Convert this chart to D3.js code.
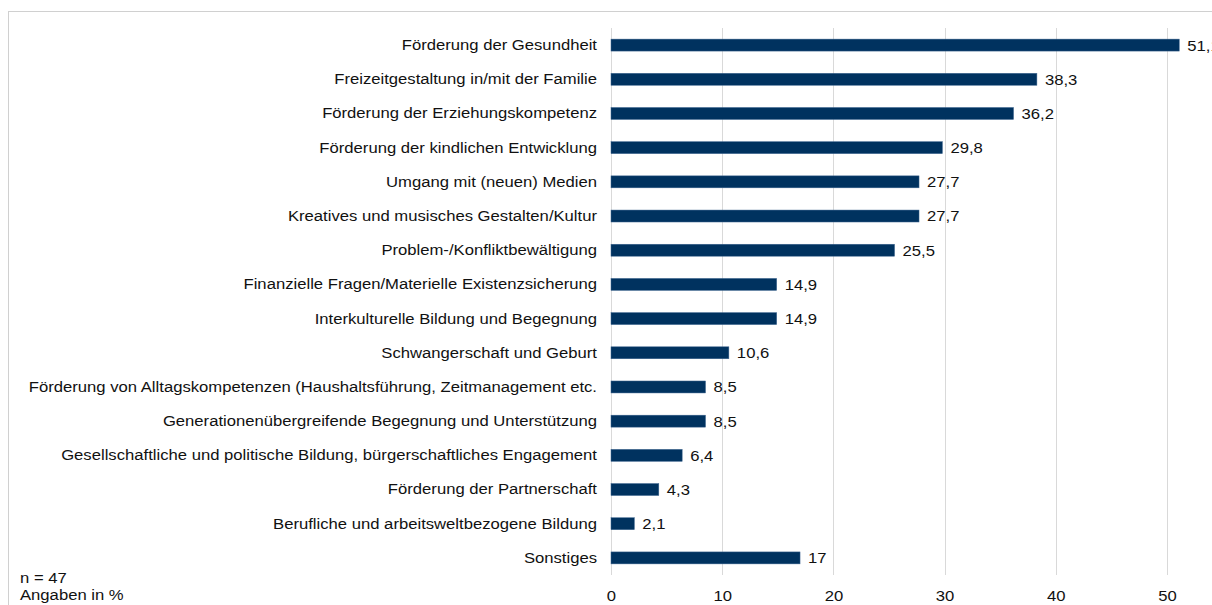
<!DOCTYPE html>
<html>
<head>
<meta charset="utf-8">
<script src="https://cdn.jsdelivr.net/npm/d3@7"></script>
<style>
html,body{margin:0;padding:0;background:#fff;overflow:hidden;}
svg{display:block;font-family:Arial,"Liberation Sans",sans-serif;}
</style>
</head>
<body>
<svg id="chart" width="1212" height="605"></svg>
<script>
const categories = [
  "Förderung der Gesundheit",
  "Freizeitgestaltung in/mit der Familie",
  "Förderung der Erziehungskompetenz",
  "Förderung der kindlichen Entwicklung",
  "Umgang mit (neuen) Medien",
  "Kreatives und musisches Gestalten/Kultur",
  "Problem-/Konfliktbewältigung",
  "Finanzielle Fragen/Materielle Existenzsicherung",
  "Interkulturelle Bildung und Begegnung",
  "Schwangerschaft und Geburt",
  "Förderung von Alltagskompetenzen (Haushaltsführung, Zeitmanagement etc.",
  "Generationenübergreifende Begegnung und Unterstützung",
  "Gesellschaftliche und politische Bildung, bürgerschaftliches Engagement",
  "Förderung der Partnerschaft",
  "Berufliche und arbeitsweltbezogene Bildung",
  "Sonstiges"
];
const values = [51.1, 38.3, 36.2, 29.8, 27.7, 27.7, 25.5, 14.9, 14.9, 10.6, 8.5, 8.5, 6.4, 4.3, 2.1, 17];
const tickValues = [0, 10, 20, 30, 40, 50];
const notes = ["n = 47", "Angaben in %"];

const svg = d3.select("#chart");
const fontSize = 15.5;
const sx = 1.075;            // horizontal text stretch seen in the reference
const textColor = "#111";
const gridColor = "#d9d9d9";

// outer border
svg.append("rect")
  .attr("x", 8.5).attr("y", 11.5)
  .attr("width", 1400).attr("height", 800)
  .attr("fill", "none").attr("stroke", "#d0d0d0").attr("stroke-width", 1);

const x = d3.scaleLinear().domain([0, 60]).range([611, 611 + 667.2]);
const y = d3.scaleBand().domain(categories).range([28, 575])
  .paddingInner(0.65).paddingOuter(0.325);

const locale = d3.formatLocale({decimal: ",", thousands: ".", grouping: [3], currency: ["", " €"]});
const fmt = v => Number.isInteger(v) ? String(v) : locale.format(".1f")(v);

// gridlines
svg.append("g").selectAll("line").data(tickValues).join("line")
  .attr("x1", d => Math.round(x(d)) + 0.5).attr("x2", d => Math.round(x(d)) + 0.5)
  .attr("y1", 28).attr("y2", 575)
  .attr("stroke", gridColor).attr("stroke-width", 1);

// x axis tick labels
const xAxis = d3.axisBottom(x).tickValues(tickValues).tickSize(0).tickPadding(0).tickFormat(d => String(d));
const gx = svg.append("g").attr("transform", "translate(0,589.5)").call(xAxis);
gx.select(".domain").remove();
gx.selectAll("text").attr("font-size", fontSize).attr("fill", textColor)
  .attr("font-family", "Arial, 'Liberation Sans', sans-serif").attr("dy", "0.71em")
  .attr("transform", `scale(${sx},1)`);

// y axis labels
const yAxis = d3.axisLeft(y).tickSize(0).tickPadding(0);
const gy = svg.append("g").attr("transform", "translate(597,0)").call(yAxis);
gy.select(".domain").remove();
gy.selectAll("text").attr("font-size", fontSize).attr("fill", textColor)
  .attr("font-family", "Arial, 'Liberation Sans', sans-serif")
  .attr("transform", `scale(${sx},1)`);

// bars
svg.append("g").selectAll("rect").data(values).join("rect")
  .attr("x", x(0))
  .attr("y", (d, i) => y(categories[i]))
  .attr("width", d => x(d) - x(0))
  .attr("height", y.bandwidth())
  .attr("fill", "#00325f")
  .attr("stroke", "#3f6690").attr("stroke-width", 0.5);

// value labels
svg.append("g").selectAll("g").data(values).join("g")
  .attr("transform", (d, i) => `translate(${x(d) + 8},${y(categories[i]) + y.bandwidth() / 2})`)
  .append("text")
  .attr("dy", "0.35em")
  .attr("transform", `scale(${sx},1)`)
  .attr("font-size", fontSize).attr("fill", textColor)
  .text(d => fmt(d));

// notes
svg.append("g").selectAll("g").data(notes).join("g")
  .attr("transform", (d, i) => `translate(20,${583 + i * 17})`)
  .append("text")
  .attr("transform", `scale(${sx},1)`)
  .attr("font-size", fontSize).attr("fill", textColor)
  .text(d => d);
</script>
</body>
</html>
